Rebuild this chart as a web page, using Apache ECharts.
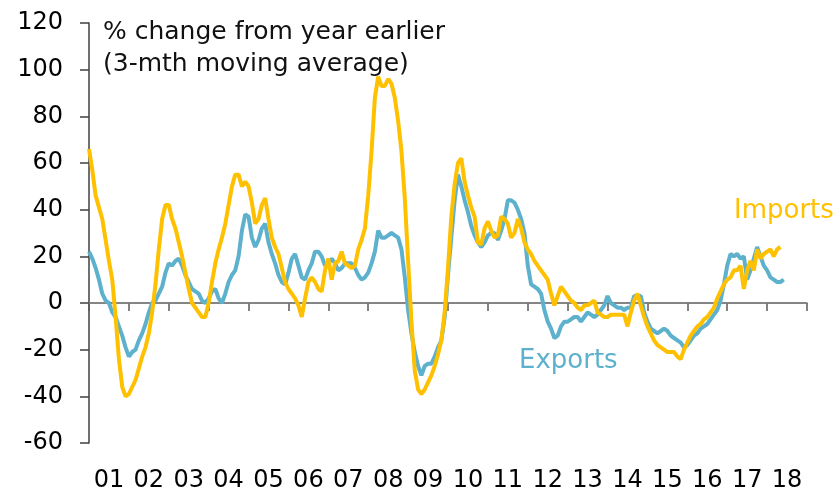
<!DOCTYPE html>
<html>
<head>
<meta charset="utf-8">
<title>Exports and imports</title>
<script src="https://cdn.jsdelivr.net/npm/echarts@6.0.0/dist/echarts.min.js"></script>
<style>
  html, body { margin: 0; padding: 0; background: #fff; }
  #chart { width: 840px; height: 496px; }
</style>
</head>
<body>
<div id="chart"></div>
<script>
// % change y/y, 3-mth moving average, monthly from Jan 2001
const yearLabels = ['01', '02', '03', '04', '05', '06', '07', '08', '09',
  '10', '11', '12', '13', '14', '15', '16', '17', '18'];

const exportsPct = [
  22, 19, 15, 10, 4, 1, 0, -4, -6, -10, -14, -19,          // 2001
  -23, -21, -20, -16, -13, -9, -4, 0, 1, 4, 7, 13,         // 2002
  17, 16, 18, 19, 16, 12, 9, 6, 5, 4, 1, 0,                // 2003
  2, 5, 6, 2, 0, 4, 9, 12, 14, 20, 31, 38,                 // 2004
  37, 28, 24, 27, 32, 34, 26, 21, 17, 12, 9, 8,            // 2005
  13, 19, 21, 16, 11, 10, 14, 17, 22, 22, 20, 16,          // 2006
  17, 19, 17, 14, 15, 17, 17, 17, 15, 12, 10, 11,          // 2007
  13, 17, 22, 31, 28, 28, 29, 30, 29, 28, 23, 11,          // 2008
  -3, -13, -21, -27, -31, -27, -26, -26, -23, -19, -16, -6, // 2009
  12, 28, 44, 55, 50, 44, 39, 33, 29, 26, 24, 26,          // 2010
  29, 30, 30, 27, 31, 36, 44, 44, 43, 40, 36, 30,          // 2011
  16, 8, 7, 6, 4, -3, -8, -11, -15, -14, -10, -8,          // 2012
  -8, -7, -6, -6, -8, -6, -4, -5, -6, -5, -3, -1,          // 2013
  3, 0, -1, -2, -2, -3, -2, -2, 3, 3, 3, -4,               // 2014
  -8, -11, -12, -13, -12, -11, -12, -14, -15, -16, -17, -19, // 2015
  -18, -16, -14, -13, -11, -10, -9, -7, -5, -3, 1, 8,      // 2016
  16, 21, 20, 21, 19, 20, 10, 14, 19, 24, 20, 16,          // 2017
  14, 11, 10, 9, 9, 10                                     // 2018
];

const importsPct = [
  66, 57, 46, 41, 36, 27, 18, 10, -6, -24, -36, -40,       // 2001
  -39, -36, -33, -28, -23, -19, -13, -4, 8, 23, 36, 42,    // 2002
  42, 36, 32, 26, 20, 13, 6, 0, -2, -4, -6, -6,            // 2003
  0, 9, 17, 23, 28, 34, 42, 50, 55, 55, 50, 52,            // 2004
  50, 43, 34, 36, 42, 45, 36, 28, 24, 21, 15, 9,           // 2005
  6, 4, 2, -1, -6, 2, 9, 11, 9, 6, 5, 14,                  // 2006
  19, 10, 17, 18, 22, 17, 16, 15, 16, 23, 27, 32,          // 2007
  46, 65, 88, 97, 93, 93, 96, 94, 88, 78, 65, 45,          // 2008
  18, -8, -29, -37, -39, -37, -34, -31, -27, -22, -16, -4, // 2009
  15, 37, 51, 60, 62, 52, 46, 41, 37, 26, 25, 32,          // 2010
  35, 31, 28, 29, 37, 36, 34, 28, 30, 36, 32, 26,          // 2011
  23, 21, 18, 16, 14, 12, 10, 4, -1, 3, 7, 5,              // 2012
  3, 1, 0, -2, -3, -1, -1, 0, 1, -4, -5, -6,               // 2013
  -6, -5, -5, -5, -5, -5, -10, -4, 1, 4, -1, -6,           // 2014
  -10, -13, -16, -18, -19, -20, -21, -21, -21, -23, -24, -20, // 2015
  -17, -14, -12, -10, -9, -7, -6, -4, -2, 2, 5, 8,         // 2016
  10, 11, 14, 14, 16, 6, 14, 18, 14, 23, 19, 21,           // 2017
  22, 23, 20, 23, 24                                       // 2018
];

// month categories Jan 2001 .. Jan 2019 (the last one just closes the axis)
const months = [];
for (let y = 2001; y <= 2018; y++) {
  for (let m = 1; m <= 12; m++) {
    months.push(y + '-' + String(m).padStart(2, '0'));
  }
}
months.push('2019-01');

// the horizontal zero line, drawn across every month
const zeroLine = months.map(() => 0);

function yearLabel(v) {
  const year = parseInt(String(v).slice(0, 4), 10);
  return yearLabels[year - 2001] || '';
}

const FONT = "'DejaVu Sans', sans-serif";
const EXPORTS_COLOR = '#5db1cd';
const IMPORTS_COLOR = '#ffc000';
const AXIS_COLOR = '#7f7f7f';

const chart = echarts.init(document.getElementById('chart'));

chart.setOption({
  animation: false,
  grid: { left: 89, right: 33, top: 23, bottom: 53, containLabel: false, outerBoundsMode: 'none' },
  xAxis: [
    {
      // carries the data: line on zero with a tick every 12 months
      type: 'category',
      data: months,
      boundaryGap: false,
      position: 'bottom',
      axisLine: { show: true, onZero: true, lineStyle: { color: AXIS_COLOR, width: 1.5 } },
      axisTick: { show: true, interval: 11, length: 8, lineStyle: { color: '#595959', width: 1.5 } },
      axisLabel: { show: false },
      splitLine: { show: false }
    },
    {
      // year labels only, at the bottom edge, centred in each year
      type: 'category',
      data: months,
      boundaryGap: false,
      position: 'bottom',
      axisLine: { show: false, onZero: false },
      axisTick: { show: false },
      axisLabel: {
        interval: (i) => i % 12 === 6,
        formatter: yearLabel,
        margin: 26,
        color: '#000',
        fontFamily: FONT,
        fontSize: 24
      },
      splitLine: { show: false }
    }
  ],
  yAxis: {
    type: 'value',
    min: -60,
    max: 120,
    interval: 20,
    axisLine: { show: true, lineStyle: { color: '#404040', width: 1.5 } },
    axisTick: { show: true, length: 9, lineStyle: { color: '#404040', width: 1.5 } },
    axisLabel: { margin: 26, color: '#000', fontFamily: FONT, fontSize: 24 },
    splitLine: { show: false }
  },
  series: [
    {
      name: 'zero',
      type: 'line',
      data: zeroLine,
      showSymbol: false,
      silent: true,
      lineStyle: { color: AXIS_COLOR, width: 1.5 },
      itemStyle: { color: AXIS_COLOR },
      z: 1
    },
    {
      name: 'Exports',
      type: 'line',
      data: exportsPct,
      showSymbol: false,
      lineStyle: { color: EXPORTS_COLOR, width: 4 },
      itemStyle: { color: EXPORTS_COLOR },
      z: 3
    },
    {
      name: 'Imports',
      type: 'line',
      data: importsPct,
      showSymbol: false,
      lineStyle: { color: IMPORTS_COLOR, width: 4 },
      itemStyle: { color: IMPORTS_COLOR },
      z: 4
    }
  ],
  graphic: [
    {
      type: 'text', x: 103, y: 32,
      style: { text: '% change from year earlier', font: '25px ' + FONT, fill: '#111', verticalAlign: 'middle' }
    },
    {
      type: 'text', x: 103, y: 64,
      style: { text: '(3-mth moving average)', font: '25px ' + FONT, fill: '#111', verticalAlign: 'middle' }
    },
    {
      type: 'text', x: 734, y: 211,
      style: { text: 'Imports', font: '26px ' + FONT, fill: IMPORTS_COLOR, verticalAlign: 'middle' }
    },
    {
      type: 'text', x: 519, y: 361,
      style: { text: 'Exports', font: '26px ' + FONT, fill: EXPORTS_COLOR, verticalAlign: 'middle' }
    }
  ]
});
</script>
</body>
</html>
